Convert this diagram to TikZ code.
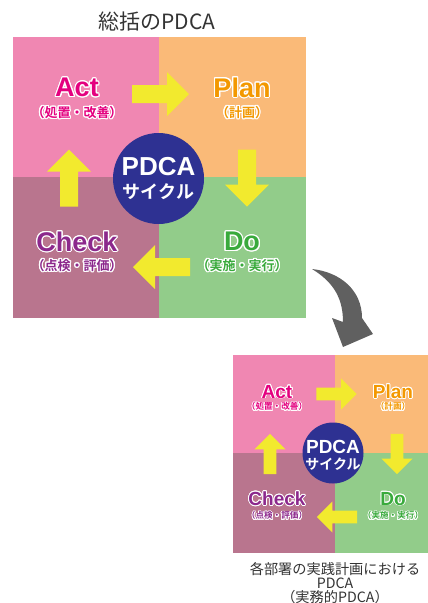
\documentclass[tikz,border=0pt]{standalone}
\usepackage{fontspec}
\setmainfont{Liberation Sans}
\newfontfamily\jp{Noto Sans CJK JP}[BoldFont={Noto Sans CJK JP Bold}]
\usepackage[copies]{contour}
\contournumber{16}
\usetikzlibrary{arrows.meta}

\definecolor{actbg}{RGB}{240,135,178}
\definecolor{planbg}{RGB}{250,186,120}
\definecolor{dobg}{RGB}{146,204,138}
\definecolor{checkbg}{RGB}{185,117,142}
\definecolor{actc}{RGB}{228,0,127}
\definecolor{planc}{RGB}{243,152,0}
\definecolor{doc}{RGB}{57,170,60}
\definecolor{checkc}{RGB}{140,40,140}
\definecolor{cyclenavy}{RGB}{46,49,146}
\definecolor{arrowyellow}{RGB}{242,234,46}
\definecolor{bendgray}{RGB}{96,96,96}
\definecolor{captgray}{RGB}{51,51,51}

\tikzset{
  yarrow/.pic={\fill[arrowyellow] (-28.5,-9) -- (6.5,-9) -- (6.5,-22) -- (28.5,0) -- (6.5,22) -- (6.5,9) -- (-28.5,9) -- cycle;},
  bigname/.style={inner sep=0pt,font=\fontsize{27}{27}\selectfont\bfseries},
  bigsub/.style={inner sep=0pt,font=\jp\fontsize{13}{13}\selectfont\bfseries},
  smallname/.style={inner sep=0pt,font=\fontsize{19}{19}\selectfont\bfseries},
  smallsub/.style={inner sep=0pt,font=\jp\fontsize{8.6}{8.6}\selectfont\bfseries},
  cyc/.style={circle,fill=cyclenavy,inner sep=0pt},
  caption/.style={inner sep=0pt,text=captgray,align=center,font=\jp\fontsize{14.2}{14}\selectfont}
}

\begin{document}
\begin{tikzpicture}[x=1pt,y=-1pt]
                \useasboundingbox (0,0) rectangle (428,603);

                \node[inner sep=0pt,text=captgray,font=\jp\fontsize{21}{21}\selectfont] (title) at (157,22) {総括のPDCA};

                \fill[actbg] (13,37) rectangle (159,177);
                \fill[planbg] (159,37) rectangle (306,177);
                \fill[checkbg] (13,177) rectangle (159,318);
                \fill[dobg] (159,177) rectangle (306,318);

                \pic at (160.5,94) {yarrow};
                \pic[rotate=-90] at (247,178) {yarrow};
                \pic[rotate=180] at (161.5,267) {yarrow};
                \pic[rotate=90] at (69,178) {yarrow};

                \node[cyc,minimum size=91pt] (cycle) at (158.5,178.5) {};
                \node[inner sep=0pt,text=white,font=\fontsize{26}{26}\selectfont\bfseries] (cycletop) at (158.5,167) {PDCA};
                \node[inner sep=0pt,text=white,font=\jp\fontsize{18}{18}\selectfont\bfseries] (cyclebot) at (158.5,192) {サイクル};

                \contourlength{1.1pt}
                \node[bigname,text=actc] (act) at (77,88) {\contour{white}{Act}};
                \node[bigsub,text=actc] (actsub) at (77,113) {\contour{white}{（処置・改善）}};
                \node[bigname,text=planc] (plan) at (242,88) {\contour{white}{Plan}};
                \node[bigsub,text=planc] (plansub) at (242,113) {\contour{white}{（計画）}};
                \node[bigname,text=checkc] (check) at (77,242) {\contour{white}{Check}};
                \node[bigsub,text=checkc] (checksub) at (77,266) {\contour{white}{（点検・評価）}};
                \node[bigname,text=doc] (do) at (242,242) {\contour{white}{Do}};
                \node[bigsub,text=doc] (dosub) at (242,266) {\contour{white}{（実施・実行）}};

                \fill[bendgray] (312,269) .. controls (340,272) and (362,290) .. (362,318) -- (373,334) -- (343,347) -- (332,318) -- (343,322) .. controls (343,300) and (335,283) .. (312,269);

                \fill[actbg] (233,355) rectangle (335,453);
                \fill[planbg] (335,355) rectangle (428,453);
                \fill[checkbg] (233,453) rectangle (335,553);
                \fill[dobg] (335,453) rectangle (428,553);

                \pic[scale=0.71] at (336.5,394) {yarrow};
                \pic[scale=0.71,rotate=-90] at (397,454) {yarrow};
                \pic[scale=0.71,rotate=180] at (337,517) {yarrow};
                \pic[scale=0.71,rotate=90] at (270,454) {yarrow};

                \node[cyc,minimum size=61pt] (scycle) at (333,453) {};
                \node[inner sep=0pt,text=white,font=\fontsize{19}{19}\selectfont\bfseries] (scycletop) at (333,447) {PDCA};
                \node[inner sep=0pt,text=white,font=\jp\fontsize{14}{14}\selectfont\bfseries] (scyclebot) at (333,464) {サイクル};

                \contourlength{0.8pt}
                \node[smallname,text=actc] (sact) at (277,392) {\contour{white}{Act}};
                \node[smallsub,text=actc] (sactsub) at (277,407) {\contour{white}{（処置・改善）}};
                \node[smallname,text=planc] (splan) at (393,392) {\contour{white}{Plan}};
                \node[smallsub,text=planc] (splansub) at (393,407) {\contour{white}{（計画）}};
                \node[smallname,text=checkc] (scheck) at (277,499) {\contour{white}{Check}};
                \node[smallsub,text=checkc] (schecksub) at (277,516) {\contour{white}{（点検・評価）}};
                \node[smallname,text=doc] (sdo) at (393,499) {\contour{white}{Do}};
                \node[smallsub,text=doc] (sdosub) at (393,516) {\contour{white}{（実施・実行）}};

                \node[caption] (capt) at (335,583) {各部署の実践計画における\\PDCA\\（実務的PDCA）};
            \end{tikzpicture}
\end{document}
